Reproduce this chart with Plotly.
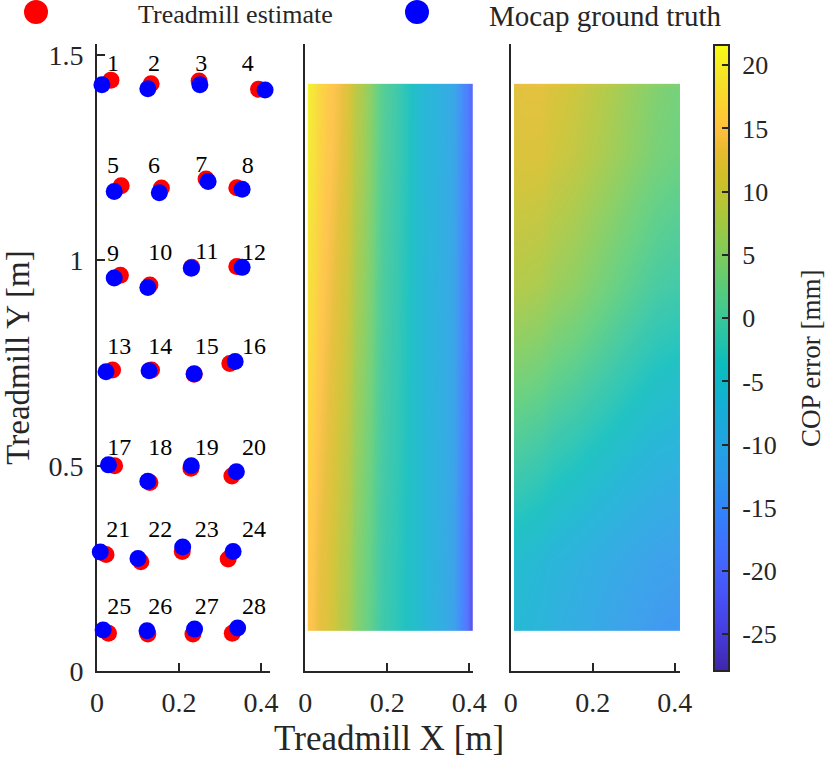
import plotly.graph_objects as go

# point numbers and where their labels sit
labels = [str(i) for i in range(1, 29)]
label_x = [0.039, 0.139, 0.254, 0.368, 0.039, 0.139, 0.254, 0.368,
           0.039, 0.154, 0.268, 0.383, 0.054, 0.154, 0.268, 0.383,
           0.054, 0.154, 0.268, 0.383, 0.052, 0.154, 0.268, 0.383,
           0.054, 0.154, 0.268, 0.383]
label_y = [1.476, 1.476, 1.476, 1.476, 1.227, 1.227, 1.229, 1.227,
           1.013, 1.016, 1.018, 1.016, 0.787, 0.787, 0.787, 0.787,
           0.541, 0.541, 0.541, 0.541, 0.341, 0.341, 0.341, 0.341,
           0.153, 0.153, 0.153, 0.153]

# treadmill estimate
red_x = [0.034, 0.132, 0.249, 0.394, 0.059, 0.157, 0.266, 0.341,
         0.057, 0.129, 0.231, 0.341, 0.038, 0.133, 0.237, 0.324,
         0.043, 0.129, 0.229, 0.329, 0.022, 0.107, 0.208, 0.320,
         0.028, 0.124, 0.234, 0.330]
red_y = [1.439, 1.430, 1.437, 1.417, 1.182, 1.176, 1.198, 1.177,
         0.964, 0.940, 0.983, 0.985, 0.733, 0.733, 0.723, 0.749,
         0.500, 0.459, 0.494, 0.475, 0.284, 0.266, 0.291, 0.273,
         0.092, 0.090, 0.090, 0.092]

# mocap ground truth
blue_x = [0.012, 0.124, 0.251, 0.410, 0.042, 0.152, 0.271, 0.354,
          0.042, 0.124, 0.230, 0.354, 0.022, 0.127, 0.237, 0.337,
          0.028, 0.124, 0.230, 0.340, 0.008, 0.100, 0.209, 0.332,
          0.015, 0.122, 0.238, 0.343]
blue_y = [1.428, 1.418, 1.428, 1.415, 1.168, 1.165, 1.192, 1.173,
          0.957, 0.934, 0.981, 0.983, 0.729, 0.731, 0.724, 0.754,
          0.502, 0.462, 0.500, 0.485, 0.290, 0.274, 0.302, 0.291,
          0.100, 0.098, 0.102, 0.105]

# COP error maps: cell edges in X and Y, rows run from low Y to high Y
map_y = [0.097, 0.099, 0.43, 0.76, 1.1, 1.42, 1.43]

x_error = [0.006, 0.008, 0.03, 0.07, 0.1, 0.12, 0.16, 0.19, 0.25, 0.3, 0.36,
           0.38, 0.395, 0.402, 0.408, 0.409]
z_error = [
    [15, 14, 12, 8.5, 6.5, 3, 0, -2.5, -5.5, -9, -14, -18, -21.5, -24, -25.5],
    [15.7, 14.7, 12.5, 9.2, 7.1, 3.6, 0.3, -2.3, -5.5, -8.9, -13.8, -17.8, -21.2, -23.6, -25],
    [17.3, 16.1, 13.5, 10.6, 8.3, 4.8, 1, -1.8, -5.5, -8.7, -13.5, -17.4, -20.5, -22.7, -23.8],
    [18.8, 17.5, 14.5, 12, 9.5, 6, 1.7, -1.4, -5.5, -8.5, -13.2, -17.1, -19.9, -21.8, -22.7],
    [20.3, 18.8, 15.5, 13.3, 10.6, 7.1, 2.4, -0.9, -5.5, -8.3, -13, -16.7, -19.3, -20.9, -21.5],
    [21, 19.5, 16, 14, 11.2, 7.7, 2.7, -0.7, -5.5, -8.2, -12.8, -16.5, -19, -20.5, -21],
]

x_corrected = [0.008, 0.01, 0.05, 0.1, 0.2, 0.3, 0.41, 0.413]
z_corrected = [
    [-7, -7.3, -8.3, -10.3, -12.8, -14.8, -15.5],
    [-5.3, -5.6, -6.4, -8, -10, -11.9, -12.8],
    [1.3, 1, 0.3, -1.4, -3.6, -5.9, -7],
    [8.3, 8.1, 7.5, 5.5, 2.5, -0.3, -1.5],
    [11.5, 11.9, 11.8, 9.8, 6.8, 3.7, 2],
    [12.5, 13.3, 13.5, 11.5, 8.5, 5, 3],
]

cbar_ticks = [20, 15, 10, 5, 0, -5, -10, -15, -20, -25]

parula = [
    [0.00, "rgb(62,38,168)"], [0.06, "rgb(70,60,222)"], [0.12, "rgb(71,82,248)"],
    [0.19, "rgb(66,108,254)"], [0.25, "rgb(50,129,251)"], [0.31, "rgb(43,150,235)"],
    [0.37, "rgb(32,164,225)"], [0.43, "rgb(18,176,212)"], [0.49, "rgb(11,189,189)"],
    [0.55, "rgb(49,197,159)"], [0.61, "rgb(87,204,122)"], [0.67, "rgb(129,203,88)"],
    [0.73, "rgb(171,198,57)"], [0.79, "rgb(209,191,39)"], [0.83, "rgb(230,187,45)"],
    [0.86, "rgb(254,190,60)"], [0.90, "rgb(252,208,48)"], [0.95, "rgb(245,227,39)"],
    [1.00, "rgb(249,251,21)"],
]

W, H = 830, 761
axis_color = "#262626"
serif = "Liberation Serif"


def fx(px):
    return px / W


def fy(px):
    return 1 - px / H


fig = go.Figure()

# map panels
fig.add_trace(go.Heatmap(x=x_error, y=map_y, z=z_error, coloraxis="coloraxis",
                         zsmooth="best", opacity=0.9, xaxis="x2", yaxis="y2"))
fig.add_trace(go.Heatmap(x=x_corrected, y=map_y, z=z_corrected, coloraxis="coloraxis",
                         zsmooth="best", opacity=0.9, xaxis="x3", yaxis="y3"))

# marker panel
fig.add_trace(go.Scatter(x=red_x, y=red_y, mode="markers", name="Treadmill estimate",
                         marker=dict(color="#ff0000", size=17), cliponaxis=False))
fig.add_trace(go.Scatter(x=blue_x, y=blue_y, mode="markers", name="Mocap ground truth",
                         marker=dict(color="#0000ff", size=17), cliponaxis=False))
fig.add_trace(go.Scatter(x=label_x, y=label_y, mode="text", text=labels,
                         textfont=dict(family=serif, size=24, color="black"),
                         cliponaxis=False))

# legend keys live on their own hidden axes, plotly caps real legend markers at 16px
fig.add_trace(go.Scatter(x=[fx(36)], y=[fy(12)], mode="markers", xaxis="x4", yaxis="y4",
                         marker=dict(color="#ff0000", size=24), cliponaxis=False))
fig.add_trace(go.Scatter(x=[fx(417)], y=[fy(12)], mode="markers", xaxis="x4", yaxis="y4",
                         marker=dict(color="#0000ff", size=24), cliponaxis=False))

axis_style = dict(showgrid=False, zeroline=False, showline=True, linecolor=axis_color,
                  linewidth=2, ticks="inside", ticklen=8, tickwidth=1.5,
                  tickcolor=axis_color, layer="below traces",
                  tickfont=dict(family=serif, size=28, color=axis_color))
x_ticks = dict(tickvals=[0, 0.2, 0.4], ticktext=["0", "0.2", "0.4"], ticklabelstandoff=5)
y_range = [0, 1.527]
y_dom = [fy(671), fy(44)]
bare_y = {k: v for k, v in axis_style.items() if k != "ticks"}

fig.update_layout(
    width=W, height=H, margin=dict(l=0, r=0, t=0, b=0, autoexpand=False),
    paper_bgcolor="white", plot_bgcolor="rgba(0,0,0,0)", showlegend=False,
    font=dict(family=serif, color=axis_color),
    xaxis=dict(domain=[fx(97), fx(270)], range=[0, 0.422], anchor="y", **x_ticks, **axis_style),
    yaxis=dict(domain=y_dom, range=y_range, anchor="x", tickvals=[0, 0.5, 1, 1.5],
               ticktext=["0", "0.5", "1", "1.5"], ticklabelstandoff=6,
               title=dict(text="Treadmill Y [m]", font=dict(family=serif, size=33, color=axis_color),
                          standoff=17),
               **axis_style),
    xaxis2=dict(domain=[fx(305.3), fx(473)], range=[0, 0.409], anchor="y2",
                title=dict(text="Treadmill X [m]", font=dict(family=serif, size=35, color=axis_color),
                           standoff=9),
                **x_ticks, **axis_style),
    yaxis2=dict(domain=y_dom, range=y_range, anchor="x2", showticklabels=False,
                tickvals=[], **bare_y),
    xaxis3=dict(domain=[fx(510.7), fx(680)], range=[0, 0.413], anchor="y3", **x_ticks, **axis_style),
    yaxis3=dict(domain=y_dom, range=y_range, anchor="x3", showticklabels=False,
                tickvals=[], **bare_y),
    xaxis4=dict(domain=[0, 1], range=[0, 1], visible=False, anchor="y4"),
    yaxis4=dict(domain=[fy(30), 1], range=[fy(30), 1], visible=False, anchor="x4"),
    coloraxis=dict(
        colorscale=parula, cmin=-27.9, cmax=21.6,
        colorbar=dict(
            x=fx(714), xanchor="left", xpad=0, y=fy(671), yanchor="bottom", ypad=0,
            len=(671 - 45) / H, lenmode="fraction", thickness=15, thicknessmode="pixels",
            outlinecolor=axis_color, outlinewidth=2,
            ticks="inside", ticklen=8, tickwidth=1.5, tickcolor=axis_color,
            tickvals=cbar_ticks, ticktext=["\u00a0" + str(t) for t in cbar_ticks],
            tickfont=dict(family=serif, size=26, color=axis_color),
        ),
    ),
    annotations=[
        dict(text="Treadmill estimate", x=fx(136), y=fy(15), xref="paper", yref="paper",
             xanchor="left", yanchor="middle", showarrow=False,
             font=dict(family=serif, size=26, color=axis_color)),
        dict(text="Mocap ground truth", x=fx(487), y=fy(16), xref="paper", yref="paper",
             xanchor="left", yanchor="middle", showarrow=False,
             font=dict(family=serif, size=29, color=axis_color)),
        dict(text="COP error [mm]", x=fx(811), y=fy(359), xref="paper", yref="paper",
             textangle=-90, xanchor="center", yanchor="middle", showarrow=False,
             font=dict(family=serif, size=27, color=axis_color)),
    ],
)

fig.write_html("out.html", config=dict(displayModeBar=False),
               post_script="document.body.style.margin='0';")
